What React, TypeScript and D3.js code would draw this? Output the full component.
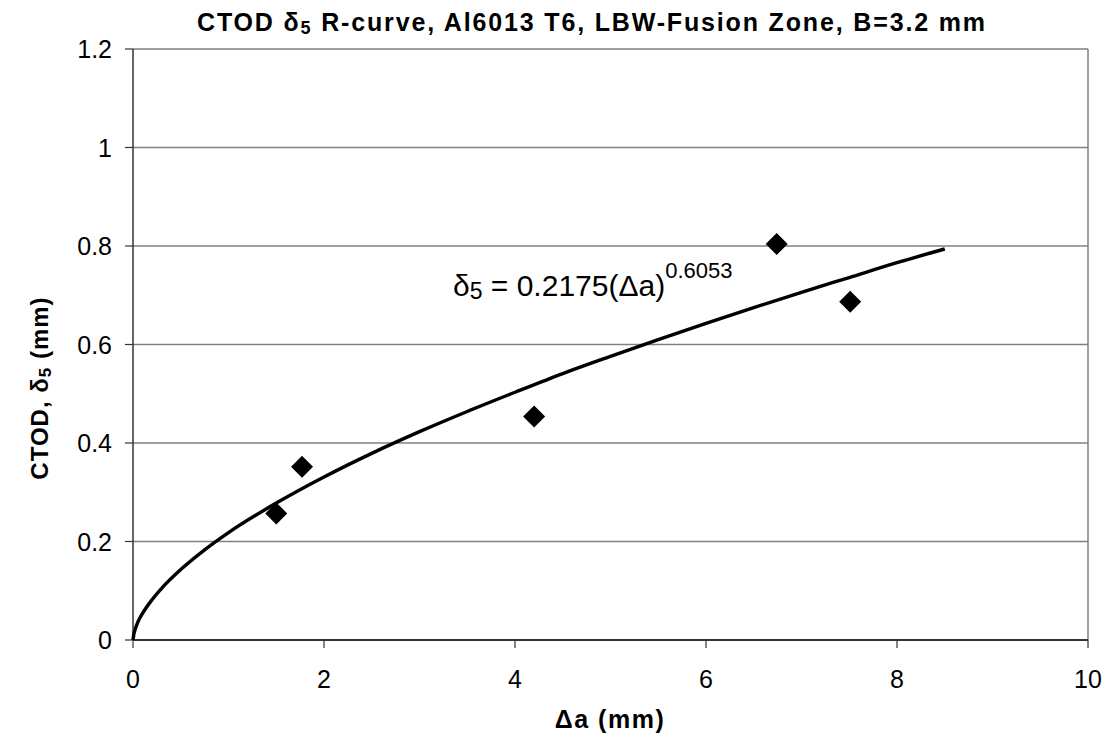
import React from "react";
import * as d3 from "d3";

const W = 1110;
const H = 742;

// measured data points (Δa mm, CTOD δ5 mm)
const pointX = [1.5, 1.77, 4.2, 6.74, 7.51];
const pointY = [0.257, 0.352, 0.454, 0.804, 0.687];

// fitted curve
const curveX = [0, 0.01, 0.02, 0.05, 0.1, 0.2, 0.3, 0.5, 0.75, 1, 1.5, 2, 2.5, 3, 3.5, 4, 4.5, 5, 5.5, 6, 6.5, 7, 7.5, 8, 8.5];
const curveY = [0, 0.013, 0.02, 0.036, 0.054, 0.082, 0.105, 0.143, 0.183, 0.218, 0.278, 0.331, 0.379, 0.423, 0.464, 0.503, 0.541, 0.576, 0.61, 0.643, 0.675, 0.706, 0.736, 0.766, 0.794];

const xTicks = [0, 2, 4, 6, 8, 10];
const yTicks = [0, 0.2, 0.4, 0.6, 0.8, 1, 1.2];

const left = 133, right = 1088, top = 49, bottom = 640;

export default function App() {
  const x = d3.scaleLinear().domain([0, 10]).range([left, right]);
  const y = d3.scaleLinear().domain([0, 1.2]).range([bottom, top]);
  const line = d3
    .line<number>()
    .x((_, i) => x(curveX[i]))
    .y((d) => y(d))
    .curve(d3.curveMonotoneX);
  const diamond = "M0,-11L11,0L0,11L-11,0Z";
  const font = "Arial, 'Liberation Sans', sans-serif";
  return (
    <svg width={W} height={H} style={{ position: "absolute", left: 0, top: 0, background: "#fff" }} fontFamily={font}>
      <rect x={0} y={0} width={W} height={H} fill="#fff" />
      <text x={197} y={31} fontWeight="bold" fontSize={25} textLength={788} lengthAdjust="spacing">
        CTOD δ<tspan fontSize={18} dy={3}>5</tspan>
        <tspan dy={-3}> R-curve, Al6013 T6, LBW-Fusion Zone, B=3.2 mm</tspan>
      </text>
      {yTicks.map((t) => (
        <g key={"y" + t}>
          {t > 0 && <line x1={left} x2={right} y1={y(t)} y2={y(t)} stroke="#808080" strokeWidth={1.5} />}
          <line x1={left - 8} x2={left} y1={y(t)} y2={y(t)} stroke="#333" strokeWidth={1.2} />
          <text x={112} y={y(t)} dy="0.36em" textAnchor="end" fontSize={25}>
            {String(t)}
          </text>
        </g>
      ))}
      <line x1={right} x2={right} y1={top} y2={bottom} stroke="#808080" strokeWidth={1.5} />
      <line x1={left} x2={left} y1={top} y2={bottom} stroke="#333" strokeWidth={1.5} />
      <line x1={left} x2={right} y1={bottom} y2={bottom} stroke="#333" strokeWidth={2} />
      {xTicks.map((t) => (
        <g key={"x" + t}>
          <line x1={x(t)} x2={x(t)} y1={bottom} y2={bottom + 8} stroke="#333" strokeWidth={1.2} />
          <text x={x(t)} y={688} textAnchor="middle" fontSize={25}>
            {String(t)}
          </text>
        </g>
      ))}
      <path d={line(curveY) || ""} fill="none" stroke="#000" strokeWidth={3.4} />
      {pointX.map((px, i) => (
        <path key={"p" + i} d={diamond} transform={`translate(${x(px)},${y(pointY[i])})`} fill="#000" />
      ))}
      <text x={453} y={296} fontSize={30}>
        δ<tspan fontSize={23} dy={3}>5</tspan>
        <tspan dy={-3}> = 0.2175(Δa)</tspan>
        <tspan fontSize={22} dy={-18}>0.6053</tspan>
      </text>
      <text x={610} y={728} textAnchor="middle" fontWeight="bold" fontSize={25} letterSpacing={1.5}>
        Δa (mm)
      </text>
      <text transform="translate(48,388) rotate(-90)" textAnchor="middle" fontWeight="bold" fontSize={24} letterSpacing={1}>
        CTOD, δ<tspan fontSize={17} dy={3}>5</tspan>
        <tspan dy={-3}> (mm)</tspan>
      </text>
    </svg>
  );
}
